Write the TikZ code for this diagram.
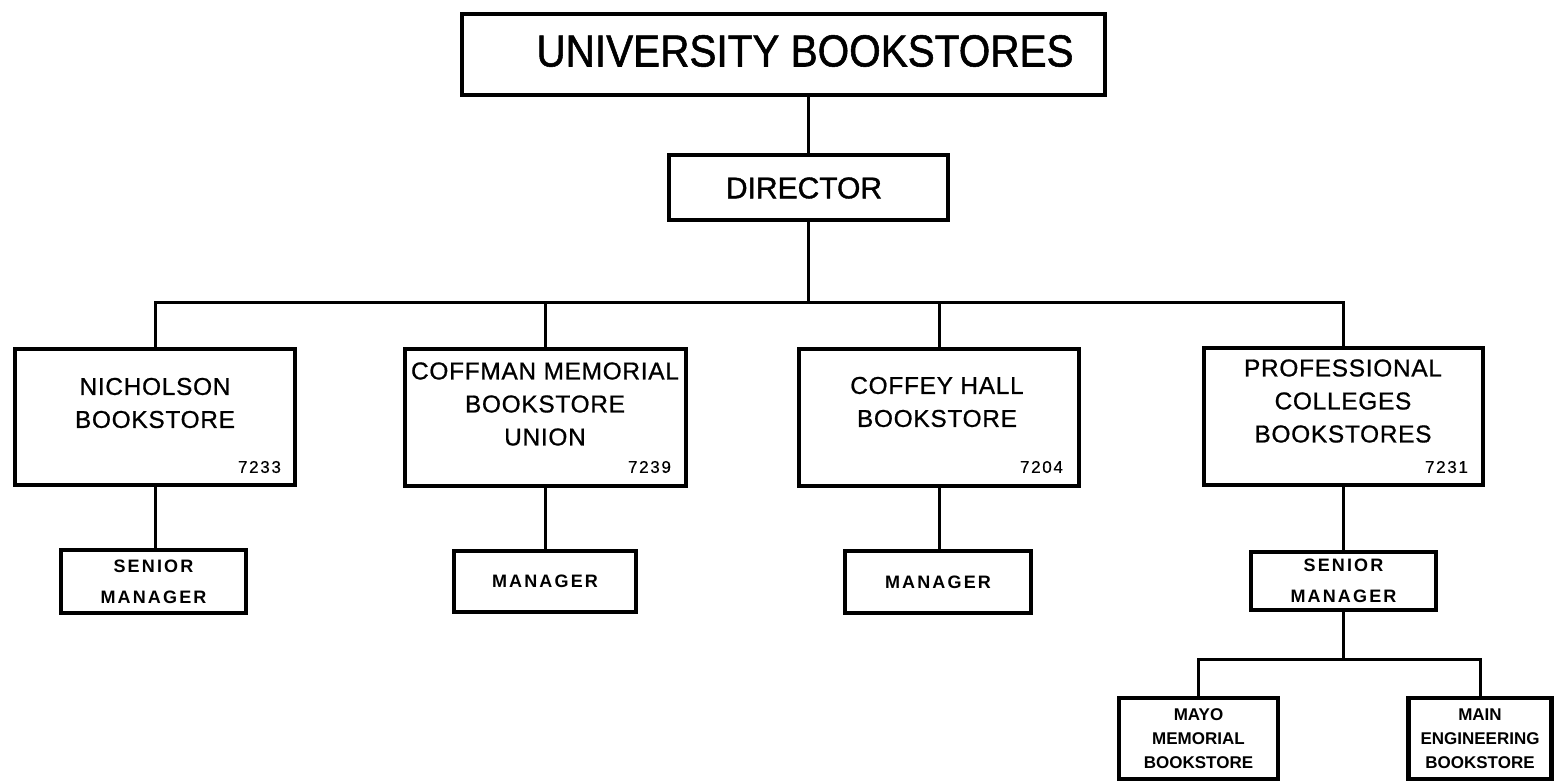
\documentclass[tikz,border=0pt]{standalone}
\usepackage{fontspec}
\setmainfont{Liberation Sans}
\newfontfamily\heavyfont[FakeBold=1.2]{Liberation Sans}
\newfontfamily\topfont[FakeBold=1.2, FakeStretch=0.9]{Liberation Sans}
\newfontfamily\midfont[FakeBold=0.8, LetterSpace=3]{Liberation Sans}
\newfontfamily\lsfont[LetterSpace=12]{Liberation Sans}
\newfontfamily\numfont[LetterSpace=10, FakeBold=0.4]{Liberation Sans}
\usetikzlibrary{calc}
\begin{document}
\begin{tikzpicture}[x=0.5pt,y=-0.5pt,
  box/.style={draw, line width=2.1pt, rectangle, inner sep=0pt},
  conn/.style={line width=1.5pt},
  toptxt/.style={font=\topfont\fontsize{22.5}{26}\selectfont},
  dirtxt/.style={font=\heavyfont\fontsize{15}{18}\selectfont},
  midtxt/.style={align=center, font=\midfont\fontsize{12.2}{16.5}\selectfont},
  numtxt/.style={anchor=east, font=\numfont\fontsize{8.5}{9}\selectfont},
  lowtxt/.style={align=center, font=\lsfont\bfseries\fontsize{9}{15.5}\selectfont},
  smalltxt/.style={align=center, font=\bfseries\fontsize{8.5}{12}\selectfont}]
\useasboundingbox (0,0) rectangle (1554,783);

% boxes
\node[box, minimum width=321.5pt, minimum height=40.5pt] (top) at (783.5,54.5) {};
\node[toptxt] (topt) at (805,51) {UNIVERSITY BOOKSTORES};
\node[box, minimum width=139.5pt, minimum height=32.5pt] (dir) at (808.5,187.5) {};
\node[dirtxt] (dirt) at (804,188) {DIRECTOR};

\node[box, minimum width=140pt, minimum height=68pt] (nich) at (155,417) {};
\node[box, minimum width=140.5pt, minimum height=68.5pt] (coff) at (545.5,417.5) {};
\node[box, minimum width=140pt, minimum height=68.5pt] (coffey) at (939,417.5) {};
\node[box, minimum width=139.5pt, minimum height=68.5pt] (prof) at (1343.5,416.5) {};

\node[midtxt] (nicht) at (155,403) {NICHOLSON\\BOOKSTORE};
\node[midtxt] (cofft) at (545,404) {COFFMAN MEMORIAL\\BOOKSTORE\\UNION};
\node[midtxt] (coffeyt) at (937,402) {COFFEY HALL\\BOOKSTORE};
\node[midtxt] (proft) at (1343,401) {PROFESSIONAL\\COLLEGES\\BOOKSTORES};

\node[numtxt] (n1) at (288,467) {7233};
\node[numtxt] (n2) at (678,467) {7239};
\node[numtxt] (n3) at (1070,467) {7204};
\node[numtxt] (n4) at (1475,467) {7231};

\node[box, minimum width=92.5pt, minimum height=31.5pt, lowtxt] (sm1) at (153.5,581.5) {SENIOR\\MANAGER};
\node[box, minimum width=91pt, minimum height=30.5pt, lowtxt] (man2) at (545,581.5) {MANAGER};
\node[box, minimum width=93pt, minimum height=31pt, lowtxt] (man3) at (938,582) {MANAGER};
\node[box, minimum width=92.5pt, minimum height=29pt, lowtxt] (sm4) at (1343.5,581) {SENIOR\\MANAGER};

\node[box, minimum width=79.5pt, minimum height=40.5pt, smalltxt] (mayo) at (1198.5,738.5) {MAYO\\MEMORIAL\\BOOKSTORE};
\node[box, minimum width=71.5pt, minimum height=40.5pt, smalltxt] (main) at (1480,738.5) {MAIN\\ENGINEERING\\BOOKSTORE};

% connectors
\coordinate (bus) at (808.5,302);
\coordinate (sub) at (1343.5,659);
\draw[conn] (top.south -| dir.north) -- (dir.north);
\draw[conn] (dir.south) -- (bus);
\draw[conn] (nich.north) -- (nich.north |- bus) -- (prof.north |- bus) -- (prof.north);
\draw[conn] (coff.north) -- (coff.north |- bus);
\draw[conn] (coffey.north) -- (coffey.north |- bus);
\draw[conn] (nich.south) -- (sm1.north -| nich.south);
\draw[conn] (coff.south) -- (man2.north -| coff.south);
\draw[conn] (coffey.south) -- (man3.north -| coffey.south);
\draw[conn] (prof.south) -- (sm4.north);
\draw[conn] (sm4.south) -- (sub);
\draw[conn] (mayo.north) -- (mayo.north |- sub) -- (main.north |- sub) -- (main.north);
\end{tikzpicture}
\end{document}
